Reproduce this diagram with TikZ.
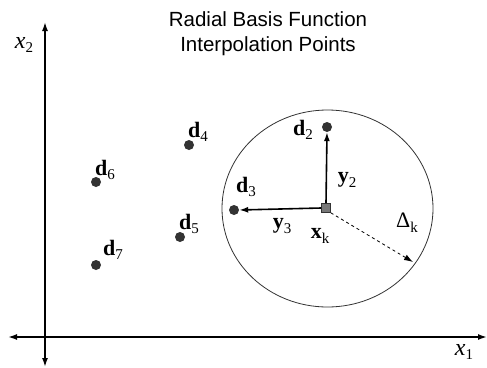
\documentclass[tikz,border=0pt]{standalone}
\usepackage{fontspec}
\setmainfont{Liberation Serif}
\newfontfamily\titlefont{Liberation Sans}
\usetikzlibrary{arrows.meta}
\definecolor{dotc}{HTML}{333333}
\definecolor{sqc}{HTML}{777777}
\newcommand{\lowsub}[1]{\raisebox{-0.45ex}{\fontsize{15}{15}\selectfont #1}}
\newcommand{\dlab}[1]{\textbf{d}\lowsub{#1}}
\begin{document}
\begin{tikzpicture}[x=1pt,y=-1pt,
  dot/.style={circle,fill=dotc,inner sep=0pt,minimum size=10pt},
  lab/.style={inner sep=0pt,font=\fontsize{22}{22}\selectfont},
  axis/.style={line width=1.6pt,{Latex[length=9pt,width=6pt]}-{Latex[length=9pt,width=6pt]}},
  vec/.style={line width=1.6pt,-{Latex[length=9pt,width=6pt]}},
  rad/.style={line width=0.8pt,dashed,-{Latex[length=9pt,width=6pt]}}]
\useasboundingbox (0,0) rectangle (487,367);
\fill[white] (0,0) rectangle (487,367);
% title
\node[inner sep=0pt,align=center,font=\titlefont\fontsize{20.5}{25}\selectfont] (title) at (268,34) {Radial Basis Function\\Interpolation Points};
% axes
\coordinate (yb) at (45,367);
\coordinate (yt) at (45,22);
\coordinate (xl) at (8,337);
\coordinate (xr) at (487,337);
\draw[axis] (yb) -- (yt);
\draw[axis] (xl) -- (xr);
\node[lab,font=\fontsize{24}{24}\selectfont] (x2) at (24,45) {\textit{x}\lowsub{2}};
\node[lab,font=\fontsize{24}{24}\selectfont] (x1) at (464,352) {\textit{x}\lowsub{1}};
% center
\node[rectangle,fill=sqc,draw=dotc,line width=0.6pt,inner sep=0pt,minimum size=9pt] (xk) at (326,208) {};
% circle
\draw[line width=0.8pt,draw=dotc] (327.5,208.5) ellipse [x radius=105.5, y radius=98.5];
% points
\node[dot] (d2) at (327,127) {};
\node[dot] (d3) at (234,210) {};
\node[dot] (d4) at (189,145) {};
\node[dot] (d5) at (180,237) {};
\node[dot] (d6) at (96,182) {};
\node[dot] (d7) at (96,265) {};
\node[lab] (l2) at (303,130) {\dlab{2}};
\node[lab] (l3) at (246,187) {\dlab{3}};
\node[lab] (l4) at (198,132) {\dlab{4}};
\node[lab] (l5) at (189,224) {\dlab{5}};
\node[lab] (l6) at (105,170) {\dlab{6}};
\node[lab] (l7) at (113,250) {\dlab{7}};
\coordinate (re) at (413,262);
\draw[vec] (xk.north) -- (d2.south);
\draw[vec] (xk.west) -- (d3.east);
\draw[rad] (xk.south east) -- (re);
\node[lab] (y2) at (347,180) {\textbf{y}\lowsub{2}};
\node[lab] (y3) at (282,226) {\textbf{y}\lowsub{3}};
\node[lab] (xkl) at (320,236) {\textbf{x}\lowsub{k}};
\node[lab] (dk) at (407,223) {Δ\lowsub{k}};
\end{tikzpicture}
\end{document}
